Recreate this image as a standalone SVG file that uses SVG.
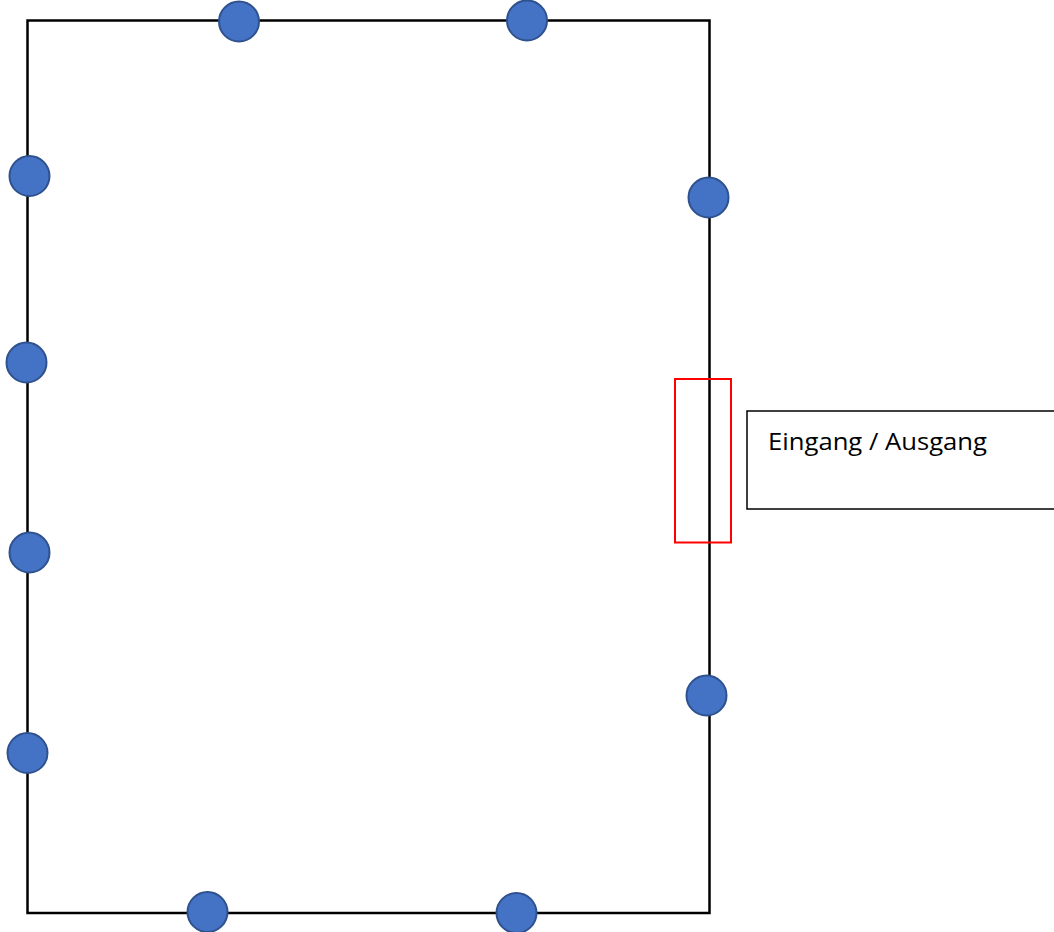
<svg xmlns="http://www.w3.org/2000/svg" width="1054" height="932" viewBox="0 0 1054 932">
<style>
.wall{fill:none;stroke:#000;stroke-width:2.5}
.pt{fill:#4472C4;stroke:#2F528F;stroke-width:2}
.door{fill:none;stroke:#FF0000;stroke-width:2}
.box{fill:#fff;stroke:#000;stroke-width:1.5}
.lbl{font-family:"Open Sans","Liberation Sans",sans-serif;font-size:24px;fill:#000}
</style>
<rect width="1054" height="932" fill="#fff"/>
<g id="walls"><rect class="wall" x="27.5" y="20.5" width="682" height="892.5"/></g>
<g id="door"><rect class="door" x="675" y="379" width="56" height="163.5"/></g>
<g id="points">
<circle id="p1" class="pt" cx="239" cy="21.5" r="20"/>
<circle id="p2" class="pt" cx="527" cy="20.5" r="20"/>
<circle id="p3" class="pt" cx="29.5" cy="176" r="20"/>
<circle id="p4" class="pt" cx="26.5" cy="362.5" r="20"/>
<circle id="p5" class="pt" cx="29.5" cy="552.5" r="20"/>
<circle id="p6" class="pt" cx="27.5" cy="753" r="20"/>
<circle id="p7" class="pt" cx="708.5" cy="197.5" r="20"/>
<circle id="p8" class="pt" cx="706.5" cy="695.5" r="20"/>
<circle id="p9" class="pt" cx="207.5" cy="912" r="20"/>
<circle id="p10" class="pt" cx="516.5" cy="913" r="20"/>
</g>
<g id="label"><rect class="box" x="747" y="411" width="312" height="98"/>
<text class="lbl" x="768" y="450" textLength="219" lengthAdjust="spacingAndGlyphs">Eingang / Ausgang</text></g>
</svg>
